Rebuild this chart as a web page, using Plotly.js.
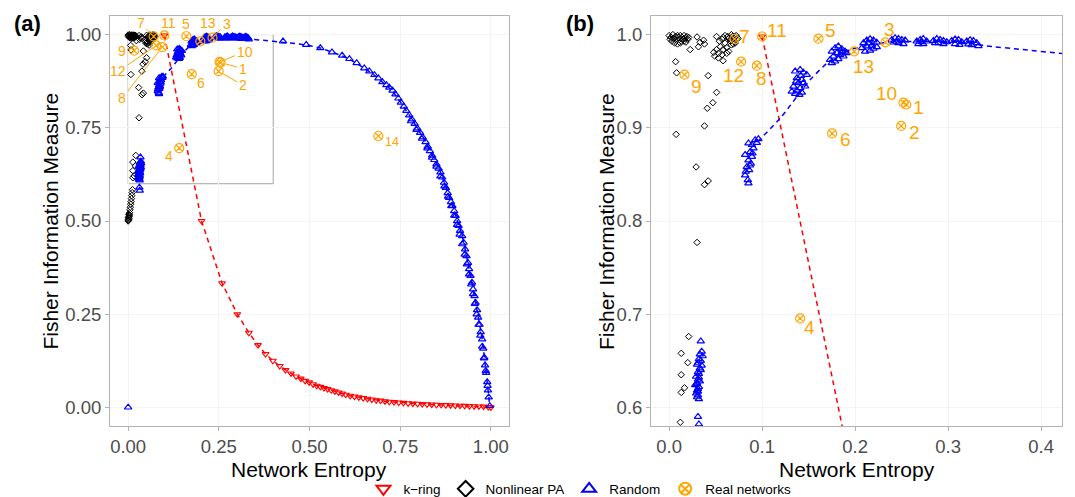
<!DOCTYPE html>
<html><head><meta charset="utf-8">
<script src="https://cdn.plot.ly/plotly-3.0.1.min.js"></script>
<style>html,body{margin:0;padding:0;background:#fff}#chart{width:1075px;height:497px}</style>
</head><body><div id="chart"></div>
<script>
// ---------------- DATA ----------------
// k-ring
const kringX = [0.100,0.2025,0.259,0.301,0.333,0.358,0.379,0.399,0.418,0.434,0.449,0.463,0.476,0.488,0.499,0.510,0.520,0.530,0.540,0.550,0.560,0.570,0.580,0.590,0.600,0.612,0.624,0.636,0.648,0.660,0.672,0.684,0.696,0.708,0.720,0.733,0.746,0.759,0.772,0.785,0.798,0.811,0.824,0.837,0.850,0.863,0.876,0.889,0.902,0.915,0.928,0.941,0.954,0.967,0.980,0.993,1.000];
const kringY = [0.998,0.500,0.333,0.250,0.200,0.167,0.143,0.125,0.111,0.100,0.091,0.083,0.077,0.071,0.067,0.062,0.058,0.055,0.052,0.049,0.046,0.043,0.040,0.037,0.034,0.031,0.029,0.027,0.025,0.023,0.021,0.019,0.018,0.016,0.015,0.014,0.013,0.012,0.011,0.010,0.0095,0.009,0.008,0.0075,0.007,0.0065,0.006,0.0055,0.005,0.0045,0.004,0.0035,0.003,0.0025,0.002,0.001,0.000];

// Nonlinear PA
const paTopX = [0.000,0.002,0.004,0.005,0.007,0.008,0.009,0.010,0.011,0.012,0.013,0.014,0.015,0.016,0.017,0.018,0.019,0.020,0.003,0.006,0.001,0.009,0.012,0.016,0.021];
const paTopY = [0.999,0.997,1.000,0.996,0.998,0.994,0.999,0.997,0.995,0.999,0.993,0.997,0.995,0.999,0.996,0.992,0.998,0.995,0.993,0.991,0.995,0.990,0.991,0.993,0.997];
const paScatX = [0.0226,0.030,0.0333,0.037,0.038,0.0315,0.007,0.008,0.042,0.051,0.047,0.041,0.038,0.0075,0.029,0.038,0.042,0.030];
const paScatY = [0.984,0.9975,0.9917,0.994,0.990,0.987,0.971,0.959,0.956,0.938,0.927,0.921,0.902,0.893,0.858,0.839,0.843,0.777];
const paMidX = [0.051,0.057,0.060,0.064,0.067,0.071,0.073,0.066,0.060,0.055,0.058,0.062,0.051,0.053,0.057,0.062,0.049,0.053,0.058,0.048,0.067,0.071,0.068,0.070,0.072,0.074,0.066,0.063,0.069,0.058,0.054,0.064];
const paMidY = [0.998,0.995,0.999,0.996,1.000,0.9975,0.995,0.993,0.991,0.987,0.984,0.986,0.984,0.980,0.9785,0.980,0.977,0.975,0.972,0.981,0.989,0.991,0.998,0.993,0.999,0.996,0.995,0.998,0.990,0.997,0.993,0.982];
const paLowX = [0.021,0.013,0.020,0.013,0.0165,0.013];
const paLowY = [0.676,0.658,0.648,0.635,0.621,0.616];
const paBotX = [0.012,0.011,0.010,0.009,0.008,0.007,0.006,0.005,0.004,0.003,0.002,0.002,0.001,0.001,0.000,0.001,0.003,0.002];
const paBotY = [0.584,0.576,0.568,0.560,0.552,0.545,0.537,0.530,0.522,0.516,0.511,0.507,0.504,0.502,0.500,0.509,0.513,0.518];

// Random
const rndZeroX = [0.000];
const rndZeroY = [0.000];
const rndAX = [0.034,0.035,0.033,0.036,0.032,0.034,0.031,0.035,0.033,0.030,0.034,0.032,0.029,0.031,0.033,0.030,0.028,0.032,0.031,0.030,0.029,0.031,0.030,0.032,0.031,0.030,0.031,0.032,0.031,0.032];
const rndAY = [0.671,0.660,0.657,0.655,0.652,0.650,0.648,0.645,0.642,0.646,0.640,0.636,0.633,0.630,0.628,0.626,0.624,0.622,0.620,0.618,0.615,0.613,0.611,0.609,0.617,0.625,0.638,0.632,0.590,0.582];
const rndBX = [0.0853,0.0817,0.0835,0.0870,0.0853,0.0890,0.0870,0.0907,0.0890,0.0925,0.0960,0.0853,0.0817,0.0896,0.0860,0.0824,0.0943,0.0878,0.0846];
const rndBY = [0.8405,0.8490,0.8580,0.8597,0.8651,0.8690,0.8740,0.8780,0.8817,0.8870,0.8880,0.8835,0.8710,0.8728,0.8548,0.8530,0.8840,0.8616,0.8441];
const rndCX = [0.1355,0.1409,0.1444,0.1480,0.1373,0.1427,0.1390,0.1444,0.1337,0.1409,0.1373,0.1427,0.1355,0.1400,0.1462,0.1319,0.1366,0.1416];
const rndCY = [0.9606,0.9624,0.9595,0.9570,0.9534,0.9516,0.9480,0.9480,0.9444,0.9427,0.9401,0.9380,0.9365,0.9355,0.9445,0.9390,0.9498,0.9559];
const rndDX = [0.1749,0.1785,0.1820,0.1857,0.1892,0.1803,0.1767,0.1839,0.1731,0.1785,0.1749,0.1874,0.1911,0.1820,0.1857];
const rndDY = [0.9820,0.9857,0.9875,0.9846,0.9820,0.9803,0.9767,0.9785,0.9731,0.9713,0.9695,0.9767,0.9803,0.9738,0.9820];
const rndEX = [0.2090,0.2125,0.2161,0.2197,0.2233,0.2072,0.2125,0.2179,0.2233,0.2108,0.2161,0.2197,0.2143];
const rndEY = [0.9910,0.9939,0.9953,0.9939,0.9917,0.9857,0.9875,0.9882,0.9867,0.9820,0.9830,0.9850,0.9910];
const rndFX = [0.2394,0.2430,0.2466,0.2502,0.2538,0.2412,0.2466,0.2520,0.2448];
const rndFY = [0.9946,0.9964,0.9957,0.9946,0.9939,0.9917,0.9910,0.9899,0.9925];
const rndGX = [0.2663,0.2700,0.2733,0.2770,0.2681,0.2733,0.2717];
const rndGY = [0.9928,0.9946,0.9957,0.9928,0.9900,0.9900,0.9920];
const rndHX = [0.2842,0.2878,0.2914,0.2950,0.2986,0.2896,0.2950,0.2860];
const rndHY = [0.9935,0.9957,0.9946,0.9935,0.9920,0.9910,0.9900,0.9910];
const rndIX = [0.3039,0.3075,0.3111,0.3147,0.3075,0.3122];
const rndIY = [0.9935,0.9950,0.9946,0.9920,0.9900,0.9892];
const rndJX = [0.3201,0.3237,0.3272,0.3308,0.3254,0.3326,0.3219];
const rndJY = [0.9928,0.9943,0.9935,0.9910,0.9888,0.9878,0.9896];
const rndArcX = [0.427,0.491,0.530,0.562,0.590,0.610,0.630,0.651,0.665,0.679,0.690,0.701,0.712,0.720,0.729];
const rndArcY = [0.982,0.973,0.964,0.953,0.944,0.935,0.924,0.910,0.902,0.892,0.883,0.873,0.865,0.858,0.850];
const rndTailX = [0.737,0.745,0.752,0.760,0.767,0.775,0.782,0.790,0.797,0.805,0.812,0.820,0.826,0.832,0.838,0.844,0.850,0.856,0.861,0.866,0.871,0.876,0.881,0.885,0.890,0.894,0.899,0.903,0.907,0.911,0.915,0.921,0.925,0.929,0.933,0.937,0.940,0.944,0.948,0.951,0.955,0.958,0.962,0.965,0.969,0.972,0.976,0.979,0.982,0.984,0.987,0.990,0.992,0.994,0.997];
const rndTailY = [0.840,0.829,0.818,0.807,0.796,0.784,0.773,0.761,0.749,0.737,0.725,0.712,0.700,0.688,0.676,0.664,0.652,0.641,0.631,0.617,0.603,0.589,0.575,0.562,0.551,0.541,0.527,0.514,0.500,0.487,0.474,0.460,0.442,0.424,0.406,0.388,0.371,0.353,0.335,0.317,0.299,0.281,0.261,0.241,0.222,0.202,0.183,0.158,0.134,0.113,0.093,0.068,0.046,0.027,0.004];
// second (inner) row of samples along the steep part of the arc
const rndInnerX = [0.780,0.795,0.810,0.825,0.838,0.850,0.861,0.872,0.882,0.891,0.899,0.907,0.914,0.921,0.928,0.934,0.940,0.946,0.951,0.956,0.961,0.966,0.971,0.976,0.981,0.986,0.991];
const rndInnerY = [0.768,0.745,0.721,0.695,0.670,0.646,0.620,0.593,0.566,0.540,0.515,0.490,0.464,0.438,0.410,0.384,0.357,0.330,0.304,0.278,0.250,0.222,0.193,0.163,0.132,0.098,0.058];
// Random trend (dashed)
const rndLineX = [0.095,0.120,0.152,0.173,0.195,0.216,0.229,0.247,0.271,0.292,0.310,0.326,0.340,0.380,0.420,0.460,0.491,0.530,0.562,0.590,0.610,0.630,0.651,0.679,0.701,0.729,0.775,0.820,0.861,0.894,0.921,0.940,0.958,0.976,0.987,0.997];
const rndLineY = [0.885,0.911,0.952,0.972,0.984,0.989,0.991,0.992,0.993,0.9925,0.992,0.9905,0.988,0.984,0.980,0.976,0.972,0.964,0.953,0.943,0.934,0.923,0.910,0.891,0.873,0.848,0.784,0.712,0.631,0.541,0.460,0.371,0.281,0.183,0.093,0.004];

// Real networks
const realLabels = ['1','2','3','4','5','6','7','8','9','10','11','12','13','14'];
const realX = [0.255,0.2495,0.2326,0.1409,0.1606,0.1753,0.0703,0.0943,0.0165,0.252,0.100,0.0774,0.199,0.690];
const realY = [0.925,0.902,0.9918,0.6954,0.9957,0.894,0.9953,0.9667,0.957,0.927,0.998,0.971,0.982,0.728];

const seriesNames = ['k\u2212ring','Nonlinear PA','Random','Real networks'];
const panelTags = ['(a)','(b)'];
const xTitle = 'Network Entropy';
const yTitle = 'Fisher Information Measure';
const xTicksA = [0,0.25,0.5,0.75,1];
const yTicksA = [0,0.25,0.5,0.75,1];
const xTicksB = [0,0.1,0.2,0.3,0.4];
const yTicksB = [0.6,0.7,0.8,0.9,1.0];
const insetBox = {x0:0, x1:0.4, y0:0.6, y1:1.0};

// ---------------- STYLE ----------------
const FONT = '"Liberation Sans", Arial, sans-serif';
const RED = '#ff0000', BLUE = '#0000ff', BLACK = '#000000', ORANGE = '#ffa500';
// label offsets in px (dx, dy) and whether a leader segment is drawn
const labelStyleA = [[22,6,1],[24,14,1],[14,-14,1],[-10,8,0],[0,-12,0],[9,9,0],[-13,-13,1],[-40,51,1],[-12,0,0],[25,-10,1],[4,-12,0],[-38,26,1],[8,-18,1],[14,6,0]];
const labelStyleB = [[12,3],[13,7],[4,-13],[9,9],[12,-8],[13,6],[10,-3],[5,13],[12,12],[-17,-9],[15,-6],[-8,14],[9,15],[12,6]];
const domA = [0, 0.4191], domB = [0.5683, 1];

const cat = (...a) => [].concat(...a);
const paX = cat(paTopX, paScatX, paMidX, paLowX, paBotX);
const paY = cat(paTopY, paScatY, paMidY, paLowY, paBotY);
const rndX = cat(rndZeroX, rndAX, rndBX, rndCX, rndDX, rndEX, rndFX, rndGX, rndHX, rndIX, rndJX, rndArcX, rndTailX, rndInnerX);
const rndY = cat(rndZeroY, rndAY, rndBY, rndCY, rndDY, rndEY, rndFY, rndGY, rndHY, rndIY, rndJY, rndArcY, rndTailY, rndInnerY);

const panels = [{xa:'x', ya:'y'}, {xa:'x2', ya:'y2'}];
const traces = [];
panels.forEach((p, i) => {
  const leg = i === 0;
  traces.push({x:kringX, y:kringY, xaxis:p.xa, yaxis:p.ya, mode:'lines', showlegend:false, hoverinfo:'skip',
    line:{color:RED, width:1.5, dash:'5px,4px'}});
  traces.push({x:kringX, y:kringY, xaxis:p.xa, yaxis:p.ya, mode:'markers', name:seriesNames[0], legendgroup:'k', showlegend:leg,
    marker:{symbol:'triangle-down-open', size:6, color:RED, line:{width:1.1}}});
  traces.push({x:paX, y:paY, xaxis:p.xa, yaxis:p.ya, mode:'markers', name:seriesNames[1], legendgroup:'pa', showlegend:leg,
    marker:{symbol:'diamond-open', size:5, color:BLACK, line:{width:1}}});
  traces.push({x:rndLineX, y:rndLineY, xaxis:p.xa, yaxis:p.ya, mode:'lines', showlegend:false, hoverinfo:'skip',
    line:{color:BLUE, width:1.5, dash:'5px,4px', shape:'spline', smoothing:0.6}});
  traces.push({x:rndX, y:rndY, xaxis:p.xa, yaxis:p.ya, mode:'markers', name:seriesNames[2], legendgroup:'r', showlegend:leg,
    marker:{symbol:'triangle-up-open', size:6.5, color:BLUE, line:{width:1.2}}});
  traces.push({x:realX, y:realY, xaxis:p.xa, yaxis:p.ya, mode:'markers', name:seriesNames[3], legendgroup:'real', showlegend:leg,
    marker:{symbol:'circle-x-open', size:9, color:ORANGE, line:{width:1.2}}});
});

const axisBase = {
  showline:true, mirror:true, linecolor:'#b3b3b3', linewidth:1,
  ticks:'outside', ticklen:4, tickcolor:'#b3b3b3', tickwidth:1,
  showgrid:true, gridcolor:'#f4f4f4', zeroline:false, automargin:false,
  tickfont:{family:FONT, size:18.5, color:'#4d4d4d'}
};
const titleFont = {family:FONT, size:21, color:'#000'};

const annotations = [];
// panel a labels
realLabels.forEach((t, i) => {
  const s = labelStyleA[i];
  const small = t === '14';
  const a = {x:realX[i], y:realY[i], xref:'x', yref:'y', text:t,
    font:{family:FONT, size: small ? 12.5 : 14, color:ORANGE}};
  if (s[2]) { Object.assign(a, {showarrow:true, arrowhead:0, arrowwidth:1, arrowcolor:ORANGE, ax:s[0], ay:s[1], standoff:5}); }
  else { Object.assign(a, {showarrow:false, xshift:s[0], yshift:-s[1]}); }
  annotations.push(a);
});
// panel b labels (only points inside the zoomed window)
const xrB = [-0.0195, 0.4225], yrB = [0.58, 1.02];
realLabels.forEach((t, i) => {
  if (realX[i] < xrB[0] || realX[i] > xrB[1] || realY[i] < yrB[0] || realY[i] > yrB[1]) return;
  const s = labelStyleB[i];
  annotations.push({x:realX[i], y:realY[i], xref:'x2', yref:'y2', text:t, showarrow:false,
    xshift:s[0], yshift:-s[1], font:{family:FONT, size:19, color:ORANGE}});
});
// panel tags
annotations.push({xref:'paper', yref:'paper', x:-0.103, y:0.982, xanchor:'left', yanchor:'middle', showarrow:false,
  text:'<b>'+panelTags[0]+'</b>', font:{family:FONT, size:22, color:'#000'}});
annotations.push({xref:'paper', yref:'paper', x:0.477, y:0.982, xanchor:'left', yanchor:'middle', showarrow:false,
  text:'<b>'+panelTags[1]+'</b>', font:{family:FONT, size:22, color:'#000'}});
// axis titles (placed as paper annotations so they sit below the tick labels)
[domA, domB].forEach((d, i) => {
  annotations.push({xref:'paper', yref:'paper', x:(d[0]+d[1])/2, y:-0.106, xanchor:'center', yanchor:'middle',
    showarrow:false, text:xTitle, font:titleFont});
  annotations.push({xref:'paper', yref:'paper', x: i === 0 ? -0.0635 : 0.521, y:0.5, xanchor:'center', yanchor:'middle',
    showarrow:false, textangle:-90, text:yTitle, font:titleFont});
});

const layout = {
  width:1075, height:497,
  margin:{l:110, r:13, t:16, b:71, autoexpand:false},
  paper_bgcolor:'#fff', plot_bgcolor:'#fff',
  font:{family:FONT, color:'#000'},
  xaxis: Object.assign({}, axisBase, {domain:domA, range:[-0.05,1.05], tickvals:xTicksA, tickformat:'.2f', anchor:'y'}),
  yaxis: Object.assign({}, axisBase, {domain:[0,1], range:[-0.05,1.05], tickvals:yTicksA, tickformat:'.2f', anchor:'x'}),
  xaxis2: Object.assign({}, axisBase, {domain:domB, range:xrB, tickvals:xTicksB, tickformat:'.1f', anchor:'y2'}),
  yaxis2: Object.assign({}, axisBase, {domain:[0,1], range:yrB, tickvals:yTicksB, tickformat:'.1f', anchor:'x2'}),
  shapes:[{type:'rect', xref:'x', yref:'y', x0:insetBox.x0, x1:insetBox.x1, y0:insetBox.y0, y1:insetBox.y1,
    line:{color:'#a6a6a6', width:1}, layer:'below'}],
  annotations: annotations,
  showlegend:true,
  legend:{orientation:'h', xref:'container', yref:'container', x:0.5395, xanchor:'center', y:0.016, yanchor:'middle',
    font:{family:FONT, size:13.5, color:'#000'}, itemsizing:'constant', traceorder:'normal', bgcolor:'rgba(0,0,0,0)'}
};

Plotly.newPlot('chart', traces, layout, {displayModeBar:false, staticPlot:true});
</script></body></html>
